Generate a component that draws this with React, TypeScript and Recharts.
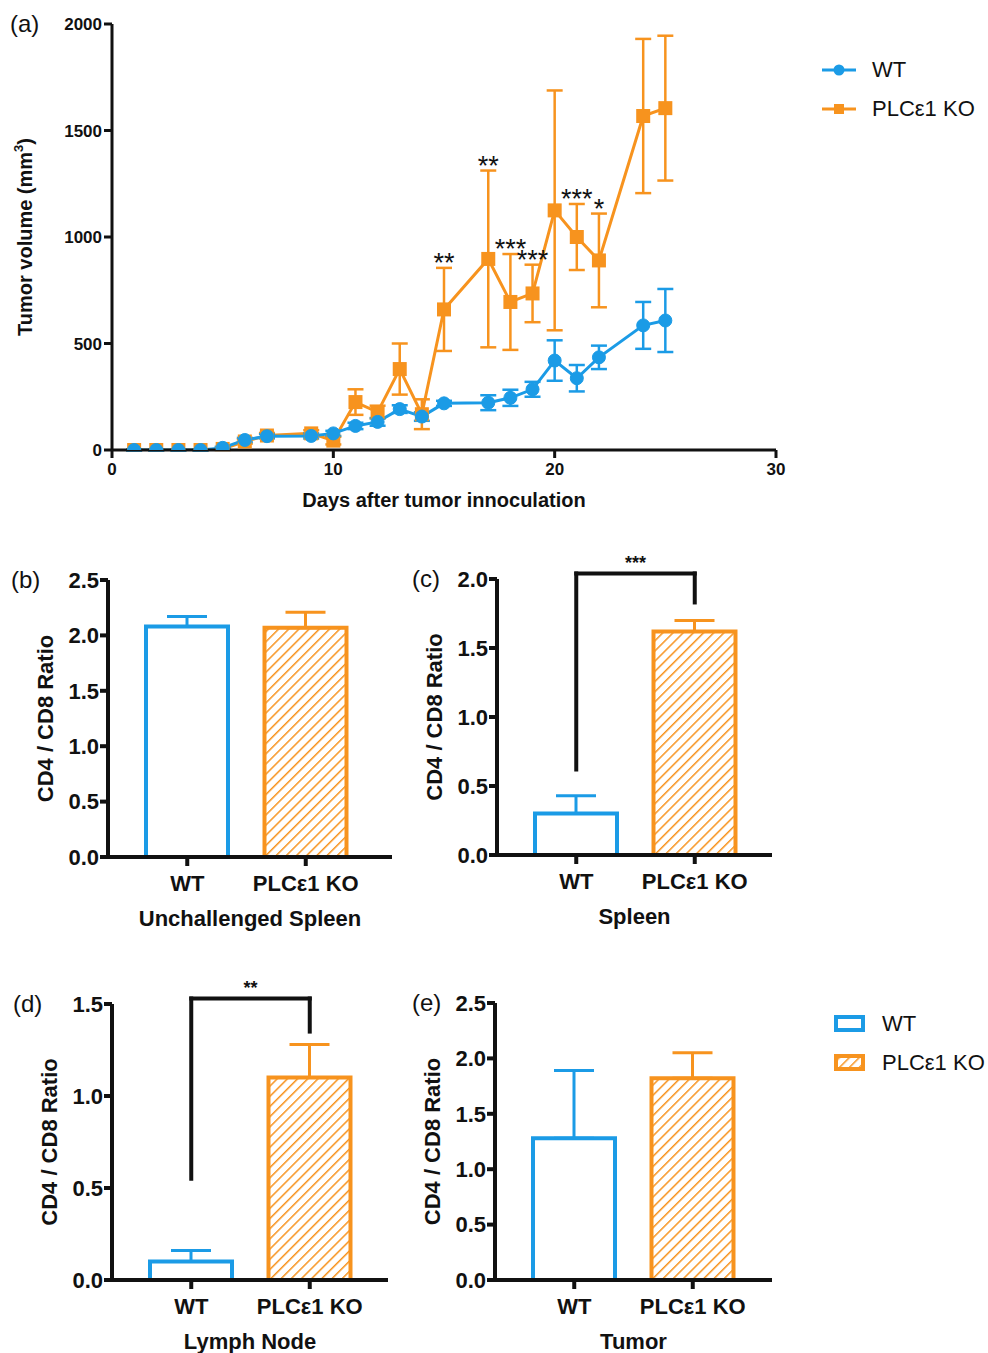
import React from 'react';
import {
  ComposedChart,
  BarChart,
  Bar,
  Line,
  Scatter,
  XAxis,
  YAxis,
  ErrorBar,
  ReferenceLine,
  Legend,
  Label,
} from 'recharts';

const BLUE = '#1B9BE6';
const ORANGE = '#F7931E';
const INK = '#111111';
const FONT = '"Liberation Sans", Arial, Helvetica, sans-serif';

// (a) tumour growth curve
const days = [1, 2, 3, 4, 5, 6, 7, 9, 10, 11, 12, 13, 14, 15, 17, 18, 19, 20, 21, 22, 24, 25];
const wtVolume = [0, 0, 0, 0, 10, 47, 65, 66, 78, 113, 132, 192, 157, 219, 222, 245, 285, 420, 337, 435, 585, 608];
const wtSem = [3, 3, 3, 3, 5, 10, 10, 12, 12, 15, 18, 18, 20, 12, 35, 38, 35, 95, 62, 55, 110, 148];
const koVolume = [0, 0, 0, 0, 5, 40, 68, 78, 44, 225, 178, 380, 168, 660, 897, 695, 735, 1125, 1000, 890, 1568, 1605];
const koSem = [3, 3, 3, 3, 5, 10, 12, 15, 18, 60, 30, 120, 70, 195, 415, 225, 135, 563, 155, 220, 362, 340];
const koSig = ['', '', '', '', '', '', '', '', '', '', '', '', '', '**', '**', '***', '***', '', '***', '*', '', ''];
const volumeTicks = [0, 500, 1000, 1500, 2000];
const dayTicks = [0, 10, 20, 30];

// (b)-(e) CD4/CD8 ratios
const groups = ['WT', 'PLCε1 KO'];
const unchallengedMean = [2.08, 2.07];
const unchallengedSem = [0.09, 0.14];
const spleenMean = [0.3, 1.62];
const spleenSem = [0.13, 0.08];
const lymphMean = [0.1, 1.1];
const lymphSem = [0.06, 0.18];
const tumorMean = [1.28, 1.82];
const tumorSem = [0.61, 0.23];
// bracket: WT end, top, KO end
const spleenBracket = [0.62, 2.04, 1.83];
const lymphBracket = [0.55, 1.53, 1.35];

const growth = days.map((d, i) => ({
  day: d,
  wt: wtVolume[i],
  wtErr: wtSem[i],
  ko: koVolume[i],
  koErr: koSem[i],
}));
const sigRows = days
  .map((d, i) => ({ day: d, top: koVolume[i] + koSem[i], sig: koSig[i] }))
  .filter((r) => r.sig);

const barRows = (mean: number[], sem: number[]) => [
  { group: groups[0], wt: mean[0], wtErr: [0, sem[0]] },
  { group: groups[1], ko: mean[1], koErr: [0, sem[1]] },
];

const SquareDot = (props: any) => {
  const { cx, cy } = props;
  if (cx == null || cy == null) return <g />;
  return <rect x={cx - 7} y={cy - 7} width={14} height={14} fill={ORANGE} />;
};

const SigText = (props: any) => {
  const { cx, cy, payload } = props;
  return (
    <text x={cx} y={cy + 4} textAnchor="middle" fontSize={27} fill={INK} fontFamily={FONT}>
      {payload.sig}
    </text>
  );
};

const GrowthLegend = () => (
  <div style={{ fontFamily: FONT, fontSize: 22, color: INK }}>
    {groups.map((g, i) => (
      <div key={g} style={{ display: 'flex', alignItems: 'center', height: 39 }}>
        <svg width={36} height={20}>
          <line x1={1} x2={35} y1={10} y2={10} stroke={i ? ORANGE : BLUE} strokeWidth={3} />
          {i ? (
            <rect x={13} y={5} width={10} height={10} fill={ORANGE} />
          ) : (
            <circle cx={18} cy={10} r={5.5} fill={BLUE} />
          )}
        </svg>
        <span style={{ marginLeft: 15 }}>{g}</span>
      </div>
    ))}
  </div>
);

const BarLegend = () => (
  <div style={{ fontFamily: FONT, fontSize: 22, color: INK }}>
    {groups.map((g, i) => (
      <div key={g} style={{ display: 'flex', alignItems: 'center', height: 39 }}>
        <svg width={34} height={20}>
          <defs>
            <pattern id="hatchLegend" patternUnits="userSpaceOnUse" width={7} height={7} patternTransform="rotate(45)">
              <rect width={7} height={7} fill="#fff" />
              <line x1={0} y1={0} x2={0} y2={7} stroke={ORANGE} strokeWidth={3} />
            </pattern>
          </defs>
          <rect
            x={3}
            y={3}
            width={27}
            height={13}
            fill={i ? 'url(#hatchLegend)' : '#fff'}
            stroke={i ? ORANGE : BLUE}
            strokeWidth={4}
          />
        </svg>
        <span style={{ marginLeft: 15 }}>{g}</span>
      </div>
    ))}
  </div>
);

function GrowthPanel() {
  return (
    <div style={{ position: 'absolute', left: 0, top: 0 }}>
      <ComposedChart width={988} height={530} data={growth} margin={{ top: 24, right: 212, bottom: 20, left: 52 }}>
        <XAxis
          type="number"
          dataKey="day"
          domain={[0, 30]}
          ticks={dayTicks}
          allowDataOverflow
          height={60}
          tickSize={8}
          tickMargin={5}
          axisLine={{ stroke: INK, strokeWidth: 3 }}
          tickLine={{ stroke: INK, strokeWidth: 3 }}
          tick={{ fontSize: 17, fontWeight: 700, fill: INK, fontFamily: FONT }}
        />
        <YAxis
          domain={[0, 2000]}
          ticks={volumeTicks}
          allowDataOverflow
          width={60}
          tickSize={8}
          tickMargin={2}
          axisLine={{ stroke: INK, strokeWidth: 3 }}
          tickLine={{ stroke: INK, strokeWidth: 3 }}
          tick={{ fontSize: 17, fontWeight: 700, fill: INK, fontFamily: FONT }}
        />
        <Line
          dataKey="ko"
          name={groups[1]}
          stroke={ORANGE}
          strokeWidth={3}
          dot={SquareDot}
          activeDot={false}
          isAnimationActive={false}
        >
          <ErrorBar dataKey="koErr" width={8} strokeWidth={2.5} stroke={ORANGE} direction="y" />
        </Line>
        <Line
          dataKey="wt"
          name={groups[0]}
          stroke={BLUE}
          strokeWidth={3}
          dot={{ r: 6.5, fill: BLUE, stroke: BLUE, strokeWidth: 1 }}
          activeDot={false}
          isAnimationActive={false}
        >
          <ErrorBar dataKey="wtErr" width={8} strokeWidth={2.5} stroke={BLUE} direction="y" />
        </Line>
        <Scatter data={sigRows} dataKey="top" shape={SigText} legendType="none" isAnimationActive={false} />
        <Legend
          layout="horizontal"
          verticalAlign="middle"
          align="center"
          content={GrowthLegend}
          wrapperStyle={{ left: 821, top: 50, width: 170, height: 80 }}
        />
        <text x={10} y={32} fontSize={24} fill={INK} fontFamily={FONT}>(a)</text>
        <text
          x={25}
          y={237}
          transform="rotate(-90 25 237)"
          textAnchor="middle"
          dominantBaseline="central"
          fontSize={20}
          fontWeight={700}
          fill={INK}
          fontFamily={FONT}
        >
          Tumor volume (mm
          <tspan dy={-7} fontSize={13}>3</tspan>
          <tspan dy={7}>)</tspan>
        </text>
        <text x={444} y={507} textAnchor="middle" fontSize={20} fontWeight={700} fill={INK} fontFamily={FONT}>
          Days after tumor innoculation
        </text>
      </ComposedChart>
    </div>
  );
}

type PanelProps = {
  id: string;
  tag: string;
  tagX: number;
  title: string;
  rows: any[];
  yMax: number;
  yTicks: number[];
  plotLeft: number;
  plotTop: number;
  plotW: number;
  plotH: number;
  extraRight?: number;
  bracket?: number[];
  sig?: string;
  legend?: boolean;
};

function BarPanel(p: PanelProps) {
  const extraRight = p.extraRight ?? 10;
  const left = p.plotLeft - 108;
  const top = p.plotTop - 40;
  const width = 108 + p.plotW + extraRight;
  const height = p.plotH + 118;
  const axisY = 40 + p.plotH;
  const tickStyle = { fontSize: 22, fontWeight: 700, fill: INK, fontFamily: FONT };
  const b = p.bracket;
  return (
    <div style={{ position: 'absolute', left, top }}>
      <BarChart width={width} height={height} data={p.rows} margin={{ top: 40, right: extraRight, bottom: 10, left: 48 }}>
        <defs>
          <pattern id={p.id} patternUnits="userSpaceOnUse" width={7.2} height={7.2} patternTransform="rotate(45)">
            <rect width={7.2} height={7.2} fill="#fff" />
            <line x1={0} y1={0} x2={0} y2={7.2} stroke={ORANGE} strokeWidth={3} />
          </pattern>
        </defs>
        <XAxis
          dataKey="group"
          height={68}
          padding={{ left: 20, right: p.plotW - 257 }}
          tickSize={9}
          tickMargin={9}
          axisLine={{ stroke: INK, strokeWidth: 4 }}
          tickLine={{ stroke: INK, strokeWidth: 4 }}
          tick={tickStyle}
        />
        <YAxis
          domain={[0, p.yMax]}
          ticks={p.yTicks}
          allowDataOverflow
          width={60}
          tickSize={8}
          tickMargin={1}
          tickFormatter={(v: number) => v.toFixed(1)}
          axisLine={{ stroke: INK, strokeWidth: 4 }}
          tickLine={{ stroke: INK, strokeWidth: 4 }}
          tick={tickStyle}
        />
        <Bar dataKey="wt" stackId="s" barSize={82} fill="#fff" stroke={BLUE} strokeWidth={4} isAnimationActive={false}>
          <ErrorBar dataKey="wtErr" width={20} strokeWidth={3} stroke={BLUE} direction="y" />
        </Bar>
        <Bar dataKey="ko" stackId="s" barSize={82} fill={`url(#${p.id})`} stroke={ORANGE} strokeWidth={4} isAnimationActive={false}>
          <ErrorBar dataKey="koErr" width={20} strokeWidth={3} stroke={ORANGE} direction="y" />
        </Bar>
        {b && (
          <ReferenceLine
            segment={[{ x: groups[0], y: b[0] }, { x: groups[0], y: b[1] }]}
            stroke={INK}
            strokeWidth={4}
            strokeLinecap="square"
            ifOverflow="visible"
          />
        )}
        {b && (
          <ReferenceLine
            segment={[{ x: groups[0], y: b[1] }, { x: groups[1], y: b[1] }]}
            stroke={INK}
            strokeWidth={4}
            strokeLinecap="square"
            ifOverflow="visible"
          >
            <Label value={p.sig} position="top" offset={4} fontSize={18} fontWeight={700} fill={INK} fontFamily={FONT} />
          </ReferenceLine>
        )}
        {b && (
          <ReferenceLine
            segment={[{ x: groups[1], y: b[1] }, { x: groups[1], y: b[2] }]}
            stroke={INK}
            strokeWidth={4}
            strokeLinecap="square"
            ifOverflow="visible"
          />
        )}
        {p.legend && (
          <Legend
            layout="horizontal"
            verticalAlign="middle"
            align="center"
            content={BarLegend}
            wrapperStyle={{ left: 833 - left, top: 1004 - top, width: 160, height: 80 }}
          />
        )}
        <text x={p.tagX - left} y={48} fontSize={24} fill={INK} fontFamily={FONT}>{p.tag}</text>
        <text
          x={45}
          y={40 + p.plotH / 2}
          transform={`rotate(-90 45 ${40 + p.plotH / 2})`}
          textAnchor="middle"
          dominantBaseline="central"
          fontSize={22}
          fontWeight={700}
          fill={INK}
          fontFamily={FONT}
        >
          CD4 / CD8 Ratio
        </text>
        <text
          x={108 + p.plotW / 2}
          y={axisY + 69}
          textAnchor="middle"
          fontSize={22}
          fontWeight={700}
          fill={INK}
          fontFamily={FONT}
        >
          {p.title}
        </text>
      </BarChart>
    </div>
  );
}

export default function App() {
  return (
    <div style={{ position: 'absolute', left: 0, top: 0, width: 988, height: 1353, background: '#fff', fontFamily: FONT }}>
      <GrowthPanel />
      <BarPanel
        id="hatchB"
        tag="(b)"
        tagX={11}
        title="Unchallenged Spleen"
        rows={barRows(unchallengedMean, unchallengedSem)}
        yMax={2.5}
        yTicks={[0, 0.5, 1, 1.5, 2, 2.5]}
        plotLeft={108}
        plotTop={580}
        plotW={284}
        plotH={277}
      />
      <BarPanel
        id="hatchC"
        tag="(c)"
        tagX={412}
        title="Spleen"
        rows={barRows(spleenMean, spleenSem)}
        yMax={2}
        yTicks={[0, 0.5, 1, 1.5, 2]}
        plotLeft={497}
        plotTop={579}
        plotW={275}
        plotH={276}
        bracket={spleenBracket}
        sig="***"
      />
      <BarPanel
        id="hatchD"
        tag="(d)"
        tagX={13}
        title="Lymph Node"
        rows={barRows(lymphMean, lymphSem)}
        yMax={1.5}
        yTicks={[0, 0.5, 1, 1.5]}
        plotLeft={112}
        plotTop={1004}
        plotW={276}
        plotH={276}
        bracket={lymphBracket}
        sig="**"
      />
      <BarPanel
        id="hatchE"
        tag="(e)"
        tagX={412}
        title="Tumor"
        rows={barRows(tumorMean, tumorSem)}
        yMax={2.5}
        yTicks={[0, 0.5, 1, 1.5, 2, 2.5]}
        plotLeft={495}
        plotTop={1003}
        plotW={277}
        plotH={277}
        extraRight={216}
        legend
      />
    </div>
  );
}
